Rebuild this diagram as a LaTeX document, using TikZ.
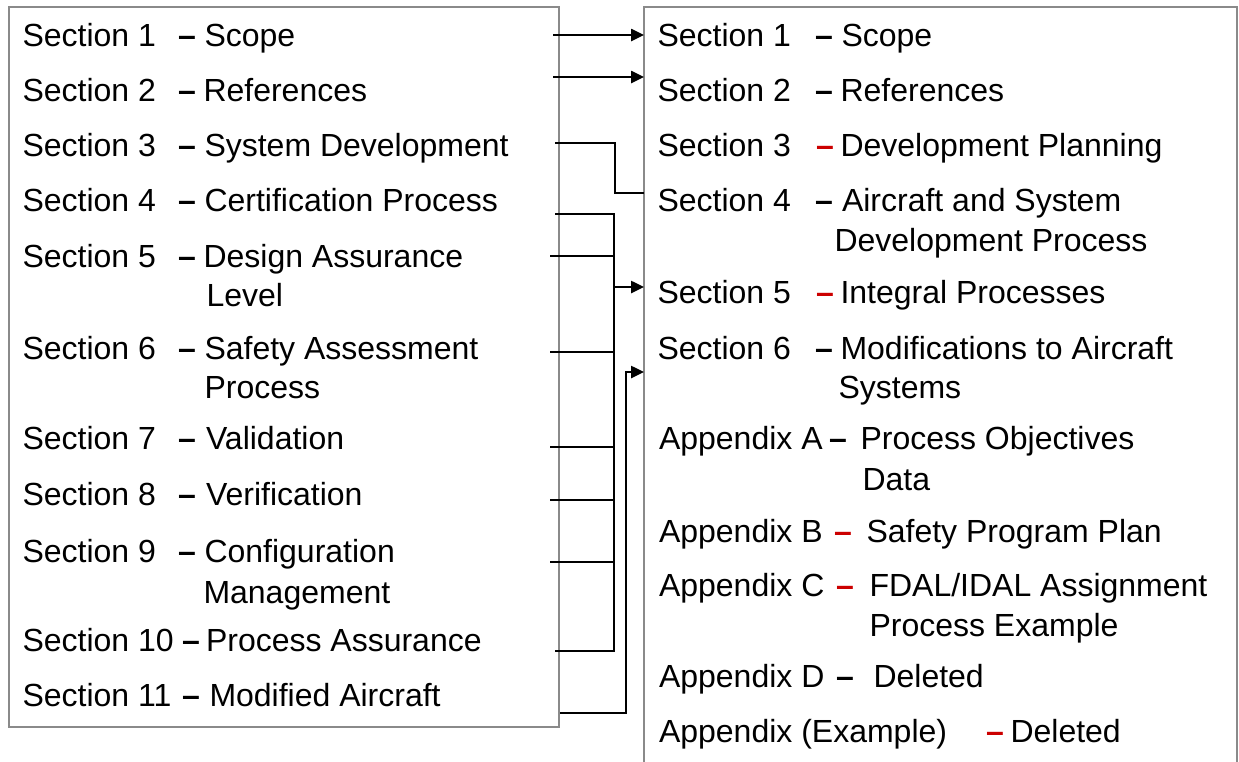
\documentclass[tikz,border=0pt]{standalone}
\usepackage{fontspec}
\setmainfont{Liberation Sans}
\usetikzlibrary{arrows.meta}

\definecolor{framegray}{RGB}{138,138,138}
\definecolor{markred}{RGB}{204,0,0}

\tikzset{
  entry/.style={anchor=base west, inner sep=0pt, outer sep=0pt,
                font=\fontsize{32}{38}\selectfont},
  sepdash/.style={font=\fontsize{32}{38}\selectfont\bfseries},
  frame/.style={draw=framegray, line width=2.6pt, anchor=north west,
                inner sep=0pt, outer sep=0pt},
  link/.style={draw=black, line width=2.5pt},
  arrowlink/.style={link, -{Triangle[length=13pt,width=12pt]}}
}

% one entry of a contents list: label, separating dash, subject
% #1 name, #2 baseline, #3 x of label, #4 label, #5 x of dash,
% #6 dash colour, #7 x of subject, #8 subject
\newcommand\secrow[8]{%
  \node[entry] (#1) at (#3,#2) {#4};
  \node[entry,sepdash,text=#6] (#1d) at (#5,#2) {\textendash};
  \node[entry] (#1s) at (#7,#2) {#8};}
% continuation line of a subject
\newcommand\secmore[4]{%
  \node[entry] (#1) at (#3,#2) {#4};}

\begin{document}
\begin{tikzpicture}[x=1pt,y=-1pt]
\useasboundingbox (0,0) rectangle (1239,761);
\clip (0,0) rectangle (1239,761);

% the two contents lists
\node[frame, minimum width=550pt, minimum height=720pt] (lbox) at (9,7) {};
\node[frame, minimum width=593pt, minimum height=790pt] (rbox) at (644,7) {};

% old structure
\secrow{l1}{46.5}{22.5}{Section 1}{178}{black}{204.5}{Scope}
\secrow{l2}{101.5}{22.5}{Section 2}{178}{black}{203.5}{References}
\secrow{l3}{156.5}{22.5}{Section 3}{178}{black}{204.5}{System Development}
\secrow{l4}{211.5}{22.5}{Section 4}{178}{black}{204.5}{Certification Process}
\secrow{l5}{267.5}{22.5}{Section 5}{178}{black}{203.5}{Design Assurance}
\secmore{l5m}{306.5}{206.5}{Level}
\secrow{l6}{359.5}{22.5}{Section 6}{178}{black}{204.5}{Safety Assessment}
\secmore{l6m}{398.5}{204.5}{Process}
\secrow{l7}{449.5}{22.5}{Section 7}{178}{black}{206}{Validation}
\secrow{l8}{505.5}{22.5}{Section 8}{178}{black}{206}{Verification}
\secrow{l9}{562.5}{22.5}{Section 9}{178}{black}{204.5}{Configuration}
\secmore{l9m}{603.5}{203.5}{Management}
\secrow{l10}{651.5}{22.5}{Section 10}{182}{black}{206}{Process Assurance}
\secrow{l11}{706.5}{22.5}{Section 11}{182}{black}{209.5}{Modified Aircraft}

% new structure
\secrow{r1}{46.5}{657.5}{Section 1}{815}{black}{841.5}{Scope}
\secrow{r2}{101.5}{657.5}{Section 2}{815}{black}{840.5}{References}
\secrow{r3}{156.5}{657.5}{Section 3}{816}{markred}{840.5}{Development Planning}
\secrow{r4}{211.5}{657.5}{Section 4}{815}{black}{842}{Aircraft and System}
\secmore{r4m}{251.5}{834.5}{Development Process}
\secrow{r5}{303.5}{657.5}{Section 5}{816}{markred}{840.5}{Integral Processes}
\secrow{r6}{359.5}{657.5}{Section 6}{815}{black}{840.5}{Modifications to Aircraft}
\secmore{r6m}{398.5}{838.5}{Systems}
\secrow{ra}{449.5}{659}{Appendix A}{829}{black}{860.5}{Process Objectives}
\secmore{ram}{490.5}{862.5}{Data}
\secrow{rb}{542.5}{659}{Appendix B}{834}{markred}{866.5}{Safety Program Plan}
\secrow{rc}{596.5}{659}{Appendix C}{836}{markred}{869.5}{FDAL/IDAL Assignment}
\secmore{rcm}{636.5}{869.5}{Process Example}
\secrow{rd}{687.5}{659}{Appendix D}{836}{black}{873.5}{Deleted}
\secrow{re}{742.5}{659}{Appendix (Example)}{986}{markred}{1010.5}{Deleted}

% sections 1 and 2 carry over unchanged
\coordinate (a1) at (553,35);
\coordinate (a2) at (553,77);
\draw[arrowlink] (a1) -- (a1 -| rbox.west);
\draw[arrowlink] (a2) -- (a2 -| rbox.west);

% section 3 becomes section 4
\coordinate (a3) at (555,143);
\coordinate (k3) at (615,193);
\draw[link] (a3) -| (k3) -- (k3 -| rbox.west);

% sections 4 to 10 merge into section 5
\coordinate (bustop) at (614,214);
\coordinate (busbot) at (614,651);
\coordinate (b4) at (555,214);
\coordinate (b5) at (550,256);
\coordinate (b6) at (550,352);
\coordinate (b7) at (550,447);
\coordinate (b8) at (550,500);
\coordinate (b9) at (550,562);
\coordinate (b10) at (555,651);
\draw[link] (b4) -- (bustop) -- (busbot) -- (b10);
\foreach \b in {b5,b6,b7,b8,b9}
  \draw[link] (\b) -- (\b -| bustop);
\coordinate (j5) at (614,287);
\draw[arrowlink] (j5) -- (j5 -| rbox.west);

% section 11 becomes section 6
\coordinate (a11) at (560,713);
\coordinate (k11) at (626,372);
\draw[arrowlink] (a11) -| (k11) -- (k11 -| rbox.west);
\end{tikzpicture}
\end{document}
